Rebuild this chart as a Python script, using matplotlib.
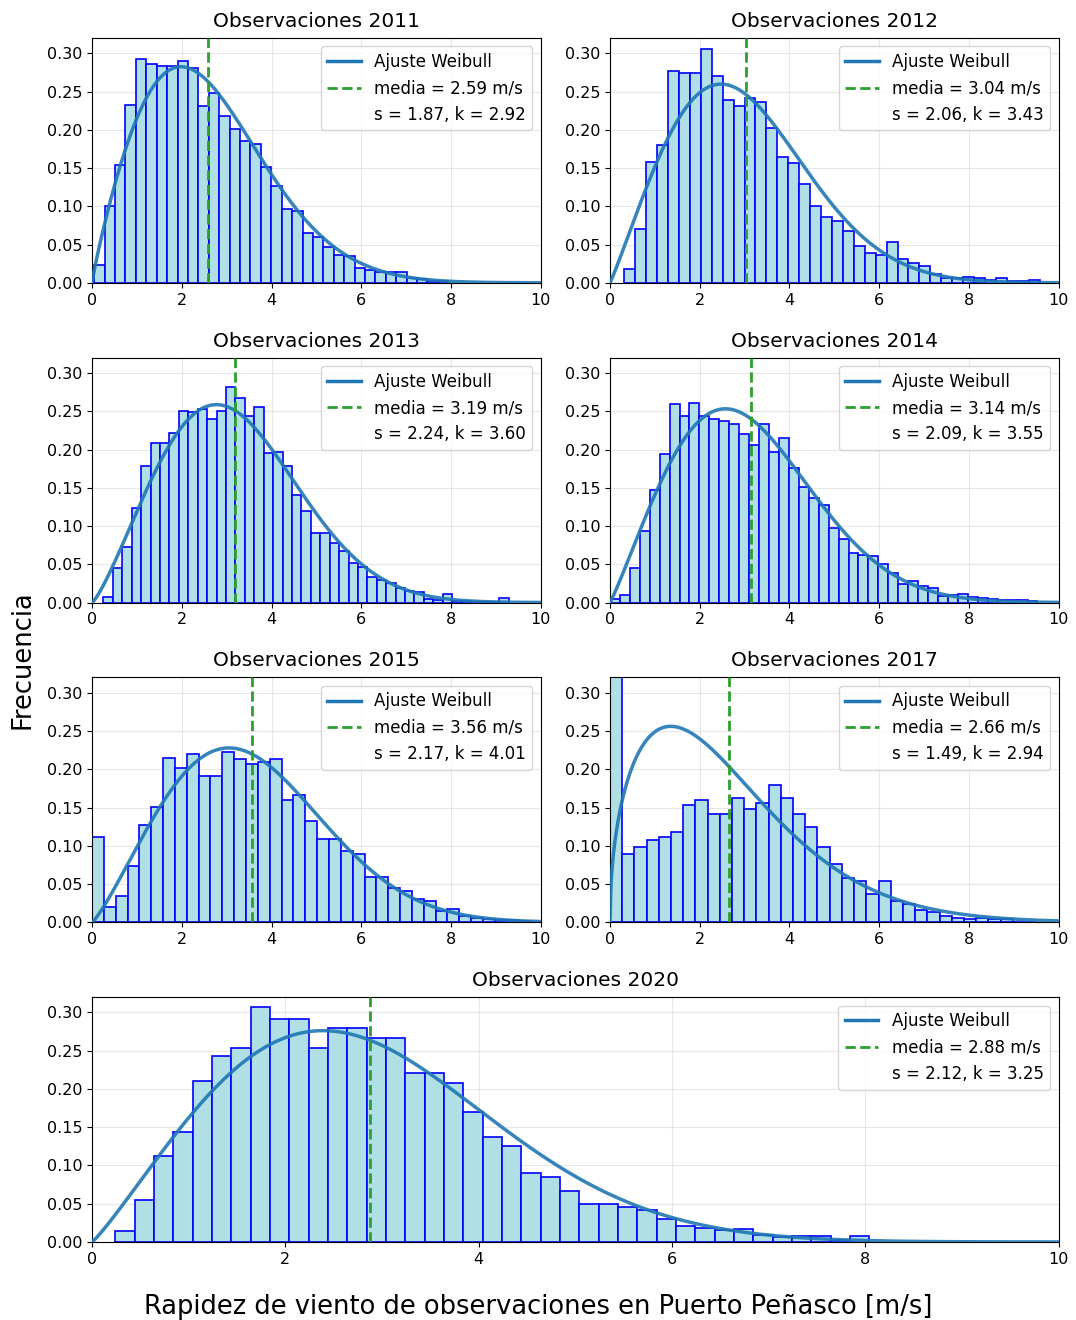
import numpy as np
import matplotlib.pyplot as plt
from matplotlib.lines import Line2D

years = [2011, 2012, 2013, 2014, 2015, 2017, 2020]
means = [2.59, 3.04, 3.19, 3.14, 3.56, 2.66, 2.88]
s_vals = [1.87, 2.06, 2.24, 2.09, 2.17, 1.49, 2.12]
k_vals = [2.92, 3.43, 3.60, 3.55, 4.01, 2.94, 3.25]

# parametros de la curva de ajuste
fit_shape = [1.9, 2.08, 2.25, 2.1, 2.2, 1.48, 2.12]
fit_scale = [2.94, 3.39, 3.6, 3.5, 4.02, 2.9, 3.23]

# bins de cada histograma
bin_start = [0.05, 0.32, 0.255, 0.0, 0.0, 0.0, 0.241]
bin_width = [0.232, 0.2435, 0.21, 0.2215, 0.264, 0.272, 0.2]

freq_2011 = [0.0235, 0.100, 0.154, 0.233, 0.292, 0.286, 0.283, 0.283, 0.290, 0.281,
             0.231, 0.248, 0.218, 0.201, 0.186, 0.182, 0.151, 0.127, 0.096, 0.094,
             0.065, 0.060, 0.047, 0.037, 0.035, 0.019, 0.017, 0.014, 0.014, 0.014,
             0.0065, 0.005, 0.003, 0.002]
freq_2012 = [0.018, 0.070, 0.158, 0.180, 0.277, 0.274, 0.274, 0.306, 0.270, 0.239,
             0.231, 0.242, 0.237, 0.202, 0.164, 0.157, 0.129, 0.100, 0.086, 0.081,
             0.068, 0.048, 0.039, 0.037, 0.053, 0.031, 0.026, 0.022, 0.012, 0.006,
             0.006, 0.008, 0.006, 0.004, 0.006, 0.003, 0.002, 0.004]
freq_2013 = [0.0074, 0.045, 0.073, 0.123, 0.178, 0.208, 0.208, 0.222, 0.250, 0.249,
             0.253, 0.240, 0.250, 0.282, 0.268, 0.244, 0.255, 0.195, 0.197, 0.178,
             0.140, 0.120, 0.091, 0.091, 0.078, 0.067, 0.052, 0.047, 0.034, 0.030,
             0.026, 0.019, 0.015, 0.014, 0.004, 0.003, 0.011, 0.002, 0.002, 0.001,
             0.001, 0.001, 0.006]
freq_2014 = [0.005, 0.010, 0.045, 0.094, 0.147, 0.194, 0.259, 0.244, 0.261, 0.244,
             0.240, 0.237, 0.233, 0.220, 0.206, 0.233, 0.197, 0.215, 0.176, 0.151,
             0.137, 0.127, 0.098, 0.083, 0.065, 0.0625, 0.061, 0.050, 0.039, 0.024,
             0.028, 0.022, 0.019, 0.009, 0.0095, 0.011, 0.007, 0.0056, 0.004, 0.003,
             0.003, 0.003, 0.002]
freq_2015 = [0.111, 0.020, 0.034, 0.074, 0.127, 0.151, 0.215, 0.202, 0.220, 0.191,
             0.191, 0.222, 0.213, 0.207, 0.209, 0.213, 0.160, 0.167, 0.133, 0.109,
             0.109, 0.093, 0.089, 0.059, 0.059, 0.045, 0.041, 0.030, 0.028, 0.015,
             0.017, 0.0086, 0.0056, 0.004, 0.003, 0.003, 0.002, 0.001]
freq_2017 = [0.98, 0.0896, 0.098, 0.107, 0.112, 0.118, 0.153, 0.160, 0.142, 0.142,
             0.163, 0.148, 0.156, 0.180, 0.163, 0.142, 0.124, 0.098, 0.076, 0.058,
             0.054, 0.037, 0.054, 0.028, 0.024, 0.016, 0.014, 0.0086, 0.0056, 0.004,
             0.0056, 0.004, 0.004, 0.001, 0.001]
freq_2020 = [0.0148, 0.0545, 0.112, 0.144, 0.210, 0.243, 0.254, 0.307, 0.292, 0.292,
             0.254, 0.280, 0.280, 0.267, 0.267, 0.221, 0.221, 0.208, 0.170, 0.137,
             0.126, 0.090, 0.0855, 0.067, 0.0498, 0.0498, 0.0459, 0.0415, 0.0306, 0.021,
             0.0188, 0.016, 0.017, 0.0096, 0.0066, 0.0074, 0.0079, 0.002, 0.0079]
freqs = [freq_2011, freq_2012, freq_2013, freq_2014, freq_2015, freq_2017, freq_2020]


def weibull_pdf(x, k, c):
    return (k / c) * (x / c) ** (k - 1) * np.exp(-(x / c) ** k)


fig = plt.figure(figsize=(10.76, 13.2), dpi=100)
gs = fig.add_gridspec(4, 2, left=0.0855, right=0.984, top=0.9712, bottom=0.0591,
                      hspace=0.306, wspace=0.154)
axes = [fig.add_subplot(gs[i // 2, i % 2]) for i in range(6)]
axes.append(fig.add_subplot(gs[3, :]))

x = np.linspace(0, 10, 400)
for i, ax in enumerate(axes):
    h = freqs[i]
    edges = bin_start[i] + bin_width[i] * np.arange(len(h))
    ax.bar(edges, h, width=bin_width[i], align='edge', color='powderblue',
           edgecolor='blue', linewidth=1.2, zorder=2)
    ax.plot(x, weibull_pdf(x, fit_shape[i], fit_scale[i]), color='#1f77b4',
            lw=2.5, alpha=0.9, zorder=3)
    ax.axvline(means[i], color='#2ca02c', ls='--', lw=2, zorder=4)
    handles = [Line2D([], [], color='#1f77b4', lw=2.5),
               Line2D([], [], color='#2ca02c', ls='--', lw=2),
               Line2D([], [], color='none')]
    labels = ['Ajuste Weibull', 'media = %.2f m/s' % means[i],
              's = %.2f, k = %.2f' % (s_vals[i], k_vals[i])]
    ax.legend(handles, labels, loc='upper right', fontsize=12)
    ax.set_title('Observaciones %d' % years[i], fontsize=14.5, pad=8)
    ax.set_xlim(0, 10)
    ax.set_ylim(0, 0.32)
    ax.set_yticks([0, 0.05, 0.10, 0.15, 0.20, 0.25, 0.30])
    ax.yaxis.set_major_formatter(plt.FormatStrFormatter('%.2f'))
    ax.tick_params(labelsize=11.5)
    ax.grid(alpha=0.3, zorder=0)
    ax.set_axisbelow(True)

fig.supxlabel('Rapidez de viento de observaciones en Puerto Peñasco [m/s]',
              fontsize=18.5, y=0.0)
fig.supylabel('Frecuencia', fontsize=18.5, x=0.009)

fig.savefig('out.png', dpi=100)
